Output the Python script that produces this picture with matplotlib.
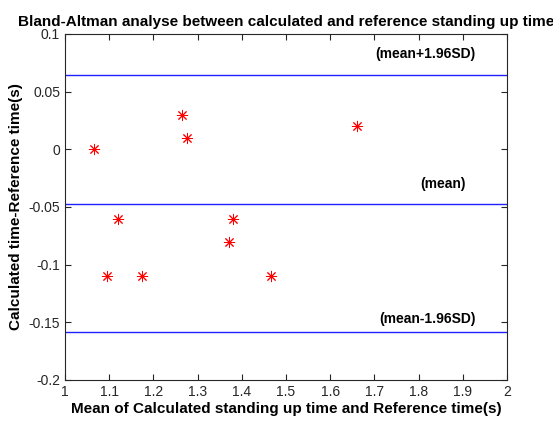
import numpy as np
import matplotlib.pyplot as plt

plt.rcParams['font.family'] = ['Liberation Sans', 'DejaVu Sans']

# mean of calculated and reference time, and their difference
mean_time = [1.065, 1.095, 1.12, 1.175, 1.265, 1.275, 1.37, 1.38, 1.465, 1.66]
diff_time = [0.0, -0.11, -0.06, -0.11, 0.03, 0.01, -0.08, -0.06, -0.11, 0.02]

d = np.array(diff_time)
m = d.mean()
sd = d.std(ddof=1)

fig = plt.figure(figsize=(5.53, 4.23), dpi=100)
ax = fig.add_axes([0.1175, 0.1017, 0.7995, 0.818])

ax.plot(mean_time, diff_time, linestyle='none', marker=(8, 2, 0), color='red',
        markersize=8, markeredgewidth=0.7)
for y in (m + 1.96 * sd, m, m - 1.96 * sd):
    ax.axhline(y, color='#2020ff', linewidth=1)

ax.text(1.815, 0.083, '(mean+1.96SD)', ha='center', va='center', fontsize=10, fontweight='bold')
ax.text(1.855, -0.03, '(mean)', ha='center', va='center', fontsize=10, fontweight='bold')
ax.text(1.82, -0.147, '(mean-1.96SD)', ha='center', va='center', fontsize=10, fontweight='bold')

ax.set_xlim(1, 2)
ax.set_ylim(-0.2, 0.1)
ax.set_xticks(np.arange(1, 2.01, 0.1))
ax.set_xticklabels(['1', '1.1', '1.2', '1.3', '1.4', '1.5', '1.6', '1.7', '1.8', '1.9', '2'])
ax.set_yticks([-0.2, -0.15, -0.1, -0.05, 0, 0.05, 0.1])
ax.set_yticklabels(['-0.2', '-0.15', '-0.1', '-0.05', '0', '0.05', '0.1'])
ax.tick_params(direction='in', top=True, right=True, labelsize=10, colors='#262626', length=4)
for s in ax.spines.values():
    s.set_color('#262626')

ax.set_xlabel('Mean of Calculated standing up time and Reference time(s)', fontsize=11, fontweight='bold', labelpad=2)
ax.set_ylabel('Calculated time-Reference time(s)', fontsize=11, fontweight='bold', labelpad=4)
ax.set_title('Bland-Altman analyse between calculated and reference standing up time', fontsize=11, fontweight='bold', pad=6)

fig.savefig('out.png', dpi=100)
